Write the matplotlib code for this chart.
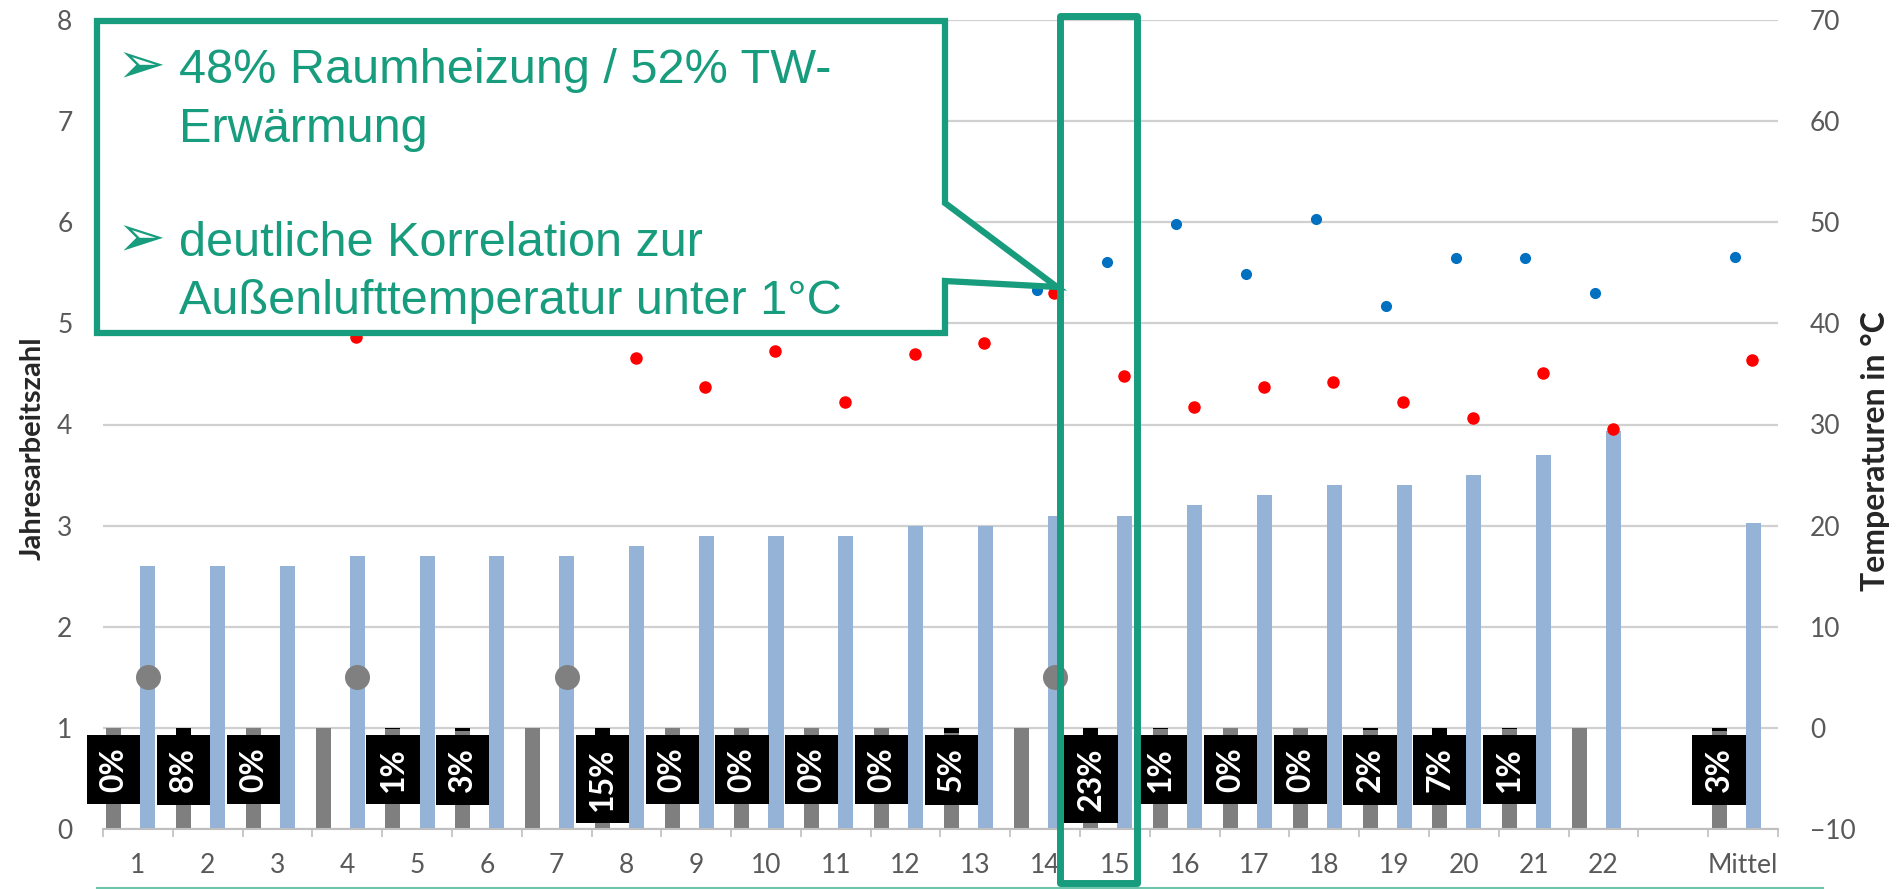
import numpy as np
import matplotlib
matplotlib.use('Agg')
import matplotlib.pyplot as plt
from matplotlib.patches import Polygon, Rectangle
from matplotlib.lines import Line2D

# Anlagen 1..22, Leerspalte, Mittelwert
kategorien = [str(i) for i in range(1, 23)] + ['', 'Mittel']

# Jahresarbeitszahl je Anlage (blaue Saeulen, linke Achse)
jaz = [2.6, 2.6, 2.6, 2.7, 2.7, 2.7, 2.7, 2.8, 2.9, 2.9, 2.9, 3.0,
       3.0, 3.1, 3.1, 3.2, 3.3, 3.4, 3.4, 3.5, 3.7, 3.94, np.nan, 3.03]

# Anteil Betrieb unter 1 °C Aussenluft in % (None = keine Angabe)
anteil = [0, 8, 0, None, 1, 3, None, 15, 0, 0, 0, 0,
          5, None, 23, 1, 0, 0, 2, 7, 1, None, None, 3]
basis = [1] * 22 + [np.nan, 1]

# Temperaturen in °C (rechte Achse)
t_rot = [np.nan, np.nan, np.nan, 38.7, np.nan, np.nan, np.nan, 36.6, 33.7, 37.3, 32.2, 37.0,
         38.1, 43.0, 34.8, 31.7, 33.7, 34.2, 32.2, 30.6, 35.1, 29.6, np.nan, 36.4]
t_blau = [np.nan] * 13 + [43.3, 46.1, 49.8, 44.9, 50.3, 41.7, 46.5, 46.5, 43.0, np.nan, 46.6]

# Markierte Anlagen (graue Punkte)
kreis_kat = [1, 4, 7, 14]
kreis_wert = 1.5

GRUEN = '#179c7d'
GRAU_TXT = '#595959'

W, H = 1899, 889


def fx(px):
    return px / W


def fy(py):
    return 1 - py / H


plt.rcParams['font.family'] = ['Lato', 'DejaVu Sans']

fig = plt.figure(figsize=(W / 100, H / 100), dpi=100)
ax = fig.add_axes([fx(103), fy(829), (1778 - 103) / W, (829 - 20) / H])
ax2 = ax.twinx()

x = np.arange(len(kategorien))
breite = 0.215
off_grau = -0.345
off_blau = 0.143

basis_arr = np.array(basis, dtype=float)
ant = np.array([np.nan if a is None else a / 100 for a in anteil])
ant0 = np.nan_to_num(ant)

ax.bar(x + off_grau, basis_arr - ant0, breite, color='#7f7f7f', zorder=2)
ax.bar(x + off_grau, np.where(np.isnan(basis_arr), np.nan, ant0), breite,
       bottom=basis_arr - ant0, color='black', zorder=2)
ax.bar(x + off_blau, jaz, breite, color='#95b3d7', zorder=2)

for i, a in enumerate(anteil):
    if a is None:
        continue
    ax.text(x[i] + off_grau, 0.805, f'{a}%', rotation=90, ha='center', va='top',
            color='white', fontsize=23, fontweight='bold', zorder=4,
            bbox=dict(boxstyle='square,pad=0.38', fc='black', ec='none'))

kx = np.array(kreis_kat) - 1
ax.plot(kx + off_blau, [kreis_wert] * len(kx), 'o', ms=17, color='#808080',
        linestyle='none', zorder=5)

ax2.plot(x - 0.12, t_blau, 'o', ms=7, color='#0070c0', linestyle='none')
ax2.plot(x + 0.13, t_rot, 'o', ms=8, color='#ff0000', linestyle='none')

ax.set_xlim(-0.5, len(kategorien) - 0.5)
ax.set_ylim(0, 8)
ax2.set_ylim(-10, 70)

ax.set_xticks(x)
ax.set_xticklabels(kategorien)
ax.set_xticks(np.arange(-0.5, len(kategorien), 1), minor=True)
ax.tick_params(axis='x', which='major', length=0, pad=17, labelsize=19, labelcolor=GRAU_TXT)
ax.tick_params(axis='x', which='minor', length=6, width=1.2, color='#bfbfbf')

ax.set_yticks(range(0, 9))
ax.tick_params(axis='y', length=0, pad=22, labelsize=19, labelcolor=GRAU_TXT)
ax2.set_yticks(range(-10, 71, 10))
ax2.tick_params(axis='y', length=0, pad=23, labelsize=19, labelcolor=GRAU_TXT)

ax.grid(axis='y', color='#d0d0d0', lw=1.6)
ax.set_axisbelow(True)

for a in (ax, ax2):
    for s in ('top', 'left', 'right'):
        a.spines[s].set_visible(False)
ax2.spines['bottom'].set_visible(False)
ax.spines['bottom'].set_color('#bfbfbf')
ax.spines['bottom'].set_linewidth(1.5)

fig.text(fx(33), fy(448), 'Jahresarbeitszahl', rotation=90, ha='center', va='center',
         fontsize=21, fontweight='bold', color='#262626')
fig.text(fx(1875), fy(451), 'Temperaturen in °C', rotation=90, ha='center', va='center',
         fontsize=23, fontweight='bold', color='#262626')

# Sprechblase mit Kernaussagen
blase = [(97, 21), (945, 21), (945, 203), (1057, 287), (945, 281), (945, 333), (97, 333)]
fig.add_artist(Polygon([(fx(a), fy(b)) for a, b in blase], closed=True,
                       transform=fig.transFigure, fc='white', ec=GRUEN, lw=4.5,
                       joinstyle='miter', zorder=10))

zeilen = [(83, True, '48% Raumheizung / 52% TW-'),
          (142, False, 'Erwärmung'),
          (256, True, 'deutliche Korrelation zur'),
          (314, False, 'Außenlufttemperatur unter 1°C')]
for yb, punkt, txt in zeilen:
    fig.text(fx(179), fy(yb), txt, fontsize=35, color=GRUEN, va='baseline',
             family=['Liberation Sans', 'DejaVu Sans'], zorder=11)
    if punkt:
        fig.text(fx(117), fy(yb - 16), '\u27a2', fontsize=42, color=GRUEN, va='center',
                 family=['DejaVu Sans'], zorder=11)

# Hervorhebung Anlage 15
fig.add_artist(Rectangle((fx(1060), fy(883)), (1137 - 1060) / W, (883 - 16) / H,
                         transform=fig.transFigure, fill=False, ec=GRUEN, lw=5,
                         joinstyle='round', zorder=12))

fig.add_artist(Line2D([fx(97), fx(1823)], [fy(887.5), fy(887.5)], color='#6cc5ab',
                      lw=1.5, transform=fig.transFigure))

fig.savefig('out.png', dpi=100)
